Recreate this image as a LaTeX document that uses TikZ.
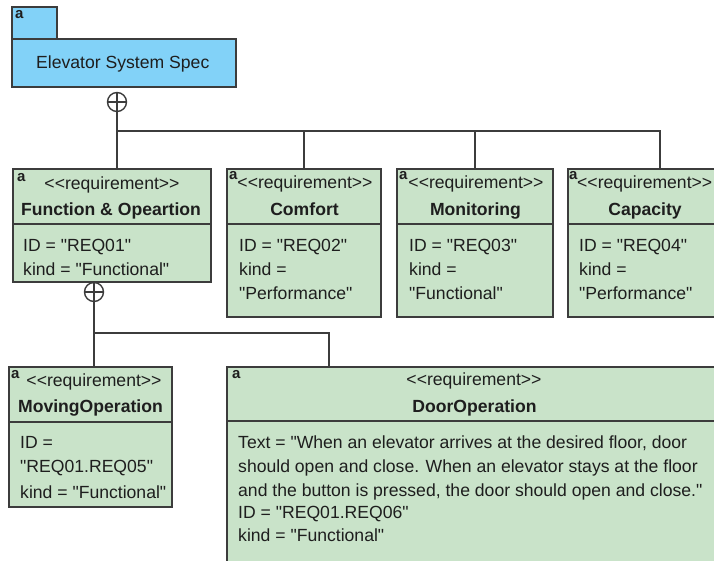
\documentclass[tikz,border=0pt]{standalone}
\usepackage{fontspec}
\setmainfont{Liberation Sans}[Ligatures=TeXOff]
\definecolor{pkgblue}{HTML}{82D2F8}
\definecolor{reqgreen}{HTML}{C9E3C9}
\definecolor{linec}{HTML}{3C3C3C}
\definecolor{txtc}{HTML}{1E1E1E}
\begin{document}
\begin{tikzpicture}[x=1pt,y=-1pt,
  box/.style={draw=linec, line width=1.4pt, anchor=north west, inner sep=0pt, outer sep=0pt},
  pkg/.style={box, fill=pkgblue},
  req/.style={box, fill=reqgreen},
  sep/.style={draw=linec, line width=1.4pt},
  conn/.style={draw=linec, line width=1.4pt},
  txt/.style={inner sep=0pt, anchor=base west, text=txtc, font=\fontsize{17.6}{21}\selectfont},
  ctxt/.style={txt, anchor=base},
  bname/.style={ctxt, font=\fontsize{17.6}{21}\selectfont\bfseries},
  icon/.style={inner sep=0pt, anchor=north west, text=txtc, font=\fontsize{15}{15}\selectfont\bfseries},
  plusc/.style={circle, draw=linec, line width=1.4pt, minimum size=19pt, inner sep=0pt, fill=white,
    path picture={\draw[linec, line width=1.4pt]
      (path picture bounding box.north) -- (path picture bounding box.south)
      (path picture bounding box.west) -- (path picture bounding box.east);}}]
\clip (0,0) rectangle (714,560);
\fill[white] (0,0) rectangle (714,560);

% package
\node[pkg, minimum width=45pt, minimum height=32pt] (spectab) at (12,7) {};
\node[pkg, minimum width=224pt, minimum height=48pt] (spec) at (12,39) {};
\node[icon] (specicon) at (15,10) {a};
\node[txt] (spectitle) at (36,68) {Elevator System Spec};

% requirement boxes
\node[req, minimum width=198pt, minimum height=113pt] (r1) at (13,169) {};
\node[req, minimum width=154pt, minimum height=148pt] (r2) at (227,169) {};
\node[req, minimum width=156pt, minimum height=148pt] (r3) at (397,169) {};
\node[req, minimum width=184pt, minimum height=148pt] (r4) at (568,169) {};
\node[req, minimum width=163pt, minimum height=140pt] (r5) at (9,367) {};
\node[req, minimum width=494pt, minimum height=200pt] (r6) at (227,367) {};

% compartment separators
\foreach \b/\y in {r1/224, r2/224, r3/224, r4/224, r5/422, r6/421}
  \draw[sep] (\b.west |- 0,\y) -- (\b.east |- 0,\y);

% icons
\node[icon] (i1) at (17,173) {a};
\node[icon] (i2) at (229,171) {a};
\node[icon] (i3) at (399,171) {a};
\node[icon] (i4) at (569,171) {a};
\node[icon] (i5) at (11,370) {a};
\node[icon] (i6) at (232,370) {a};

% Function & Opeartion
\node[ctxt] (s1) at (112,189) {<{}<requirement>{}>};
\node[bname] (n1) at (111,215) {Function \& Opeartion};
\node[txt] (a1a) at (23,251) {ID = "REQ01"};
\node[txt] (a1b) at (23,275) {kind = "Functional"};

% Comfort
\node[ctxt] (s2) at (305,188) {<{}<requirement>{}>};
\node[bname] (n2) at (304.5,215) {Comfort};
\node[txt] (a2a) at (239,251) {ID = "REQ02"};
\node[txt] (a2b) at (239,275) {kind =};
\node[txt] (a2c) at (239,299) {"Performance"};

% Monitoring
\node[ctxt] (s3) at (476,188) {<{}<requirement>{}>};
\node[bname] (n3) at (475.5,215) {Monitoring};
\node[txt] (a3a) at (409,251) {ID = "REQ03"};
\node[txt] (a3b) at (409,275) {kind =};
\node[txt] (a3c) at (409,299) {"Functional"};

% Capacity
\node[txt] (s4) at (577,188) {<{}<requirement>{}>};
\node[bname] (n4) at (645,215) {Capacity};
\node[txt] (a4a) at (579,251) {ID = "REQ04"};
\node[txt] (a4b) at (579,275) {kind =};
\node[txt] (a4c) at (579,299) {"Performance"};

% MovingOperation
\node[ctxt] (s5) at (94,386) {<{}<requirement>{}>};
\node[bname] (n5) at (90.5,412) {MovingOperation};
\node[txt] (a5a) at (20,448) {ID =};
\node[txt] (a5b) at (20,472) {"REQ01.REQ05"};
\node[txt] (a5c) at (20,498) {kind = "Functional"};

% DoorOperation
\node[ctxt] (s6) at (474,385) {<{}<requirement>{}>};
\node[bname] (n6) at (474.5,412) {DoorOperation};
\node[txt] (a6a) at (238,448) {Text = "When an elevator arrives at the desired floor, door};
\node[txt] (a6b) at (238,472) {should open and close. When an elevator stays at the floor};
\node[txt] (a6c) at (238,496) {and the button is pressed, the door should open and close."};
\node[txt] (a6d) at (238,518) {ID = "REQ01.REQ06"};
\node[txt] (a6e) at (238,541) {kind = "Functional"};

% containment connectors
\node[plusc] (c1) at (117,102) {};
\node[plusc] (c2) at (94,292) {};
\coordinate (bus1) at (117,131);
\coordinate (bus2) at (94,333);
\coordinate (doorjoin) at (329,367);

\draw[conn] (c1.south) -- (c1 |- r1.north);
\draw[conn] (bus1) -| (r4.north);
\draw[conn] (bus1 -| r2.north) -- (r2.north);
\draw[conn] (bus1 -| r3.north) -- (r3.north);

\draw[conn] (c2.south) -- (c2 |- r5.north);
\draw[conn] (bus2) -| (doorjoin);
\end{tikzpicture}
\end{document}
